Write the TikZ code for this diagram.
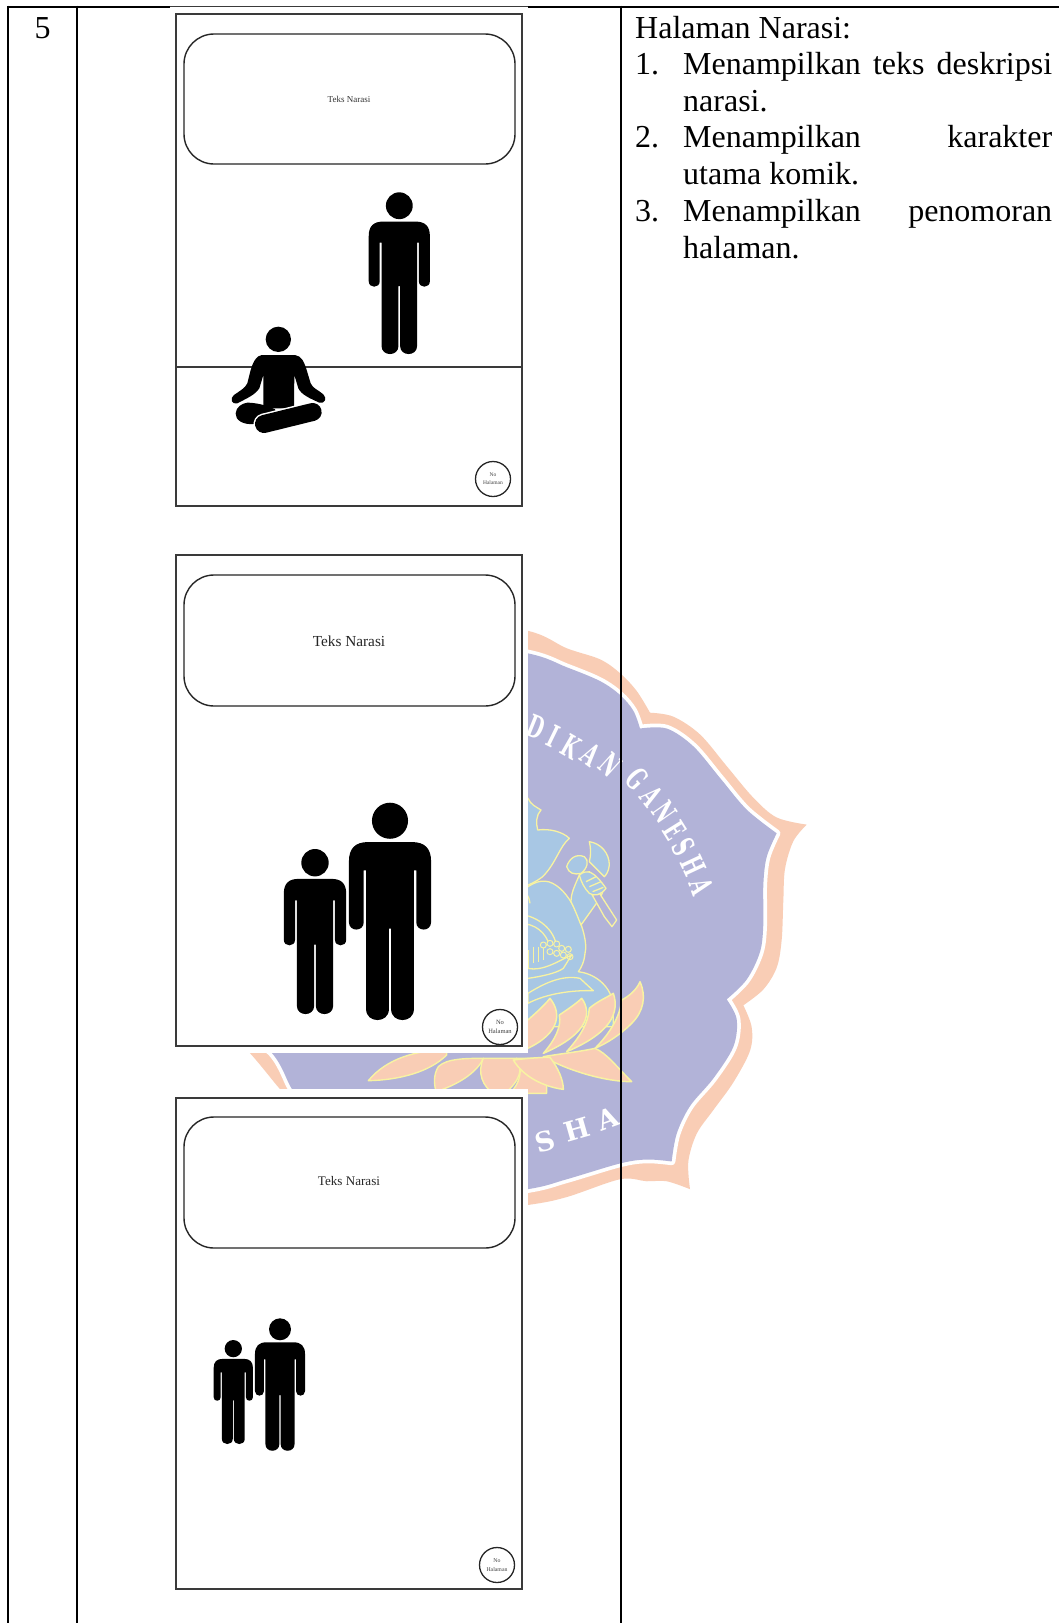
\documentclass[tikz,border=0pt]{standalone}
\usepackage{fontspec}
\setmainfont{Liberation Serif}
\newfontfamily\wmfont{DejaVu Serif}
\definecolor{wmorange}{HTML}{F9CDB5}
\definecolor{wmpurple}{HTML}{B2B3D8}
\definecolor{wmblue}{HTML}{A8C7E4}
\definecolor{wmyellow}{HTML}{F8F3A2}
\definecolor{framegray}{HTML}{3A3A3A}
\tikzset{
  tableline/.style={line width=2pt,black},
  frameline/.style={line width=1.5pt,framegray},
  bubble/.style={line width=1.4pt,draw=black!85,rounded corners=30pt},
  nocircle/.style={circle,draw=black!85,line width=1.3pt,minimum size=35pt,inner sep=0pt,align=center,text=black!75},
  bodytext/.style={anchor=base west,inner sep=0pt,font=\fontsize{32}{37}\selectfont},
  wmline/.style={draw=wmyellow,line width=1.3pt,line join=round},
  wmletter/.style={text=white,inner sep=0pt,font=\wmfont\fontsize{31}{31}\selectfont\bfseries},
  wmround/.style={text=white,inner sep=0pt,font=\wmfont\fontsize{27}{27}\selectfont\bfseries},
}
\newcommand{\wml}[1]{\scalebox{.6}[1]{#1}}
\newcommand{\stickman}[3]{%
  \begin{scope}[shift={(#1,#2)},scale=#3/100]
    \fill[black] (0,8.3) circle[radius=8.3];
    \fill[black] (-18.9,27) .. controls (-18.9,21) and (-16,18.1) .. (-10,18.1) -- (10,18.1)
      .. controls (16,18.1) and (18.9,21) .. (18.9,27) -- (18.9,55)
      .. controls (18.9,59.5) and (12.1,59.5) .. (12.1,55) -- (12.1,31.1) -- (11,31.1) -- (11,95)
      .. controls (11,101.7) and (0.5,101.7) .. (0.5,95) -- (0.5,58) -- (-0.5,58) -- (-0.5,95)
      .. controls (-0.5,101.7) and (-11,101.7) .. (-11,95) -- (-11,31.1) -- (-12.1,31.1) -- (-12.1,55)
      .. controls (-12.1,59.5) and (-18.9,59.5) .. (-18.9,55) -- cycle;
  \end{scope}}
\newcommand{\wmouter}{plot[smooth,tension=.55] coordinates {(-900,300) (-400,50) (-200,40) (84,78) (200,122) (300,150) (360,185) (410,230) (450,285)}
  -- plot[smooth,tension=.55] coordinates {(450,285) (520,295) (600,340) (680,420) (760,500) (830,550) (920,568)}
  -- plot[smooth,tension=.55] coordinates {(920,568) (880,610) (855,680) (850,760) (845,860) (830,930) (790,985) (730,1025)}
  -- plot[smooth,tension=.55] coordinates {(730,1025) (755,1080) (750,1140) (700,1220) (640,1290) (590,1350) (565,1420) (570,1490)}
  -- plot[smooth,tension=.55] coordinates {(570,1490) (500,1470) (440,1470) (360,1465) (200,1510) (84,1530) (-200,1560) (-500,1500) (-600,1290) (-660,1237) (-750,1146) (-900,1012) (-900,300)}}
\newcommand{\wminner}{plot[smooth,tension=.55] coordinates {(-850,400) (-400,110) (-200,100) (84,135) (200,170) (300,205) (360,240) (400,280) (420,325)}
  -- plot[smooth,tension=.55] coordinates {(420,325) (500,325) (580,370) (660,450) (740,530) (830,590)}
  -- plot[smooth,tension=.55] coordinates {(830,590) (800,650) (790,720) (790,820) (780,890) (740,960) (680,1010)}
  -- plot[smooth,tension=.55] coordinates {(680,1010) (710,1060) (700,1130) (640,1210) (570,1280) (530,1350) (515,1420)}
  -- plot[smooth,tension=.55] coordinates {(515,1420) (440,1415) (360,1425) (200,1465) (84,1490) (-200,1520) (-500,1470) (-570,1290) (-624,1237) (-684,1146) (-850,1012) (-850,400)}}
\begin{document}
\begin{tikzpicture}[x=1pt,y=-1pt]
\useasboundingbox (0,0) rectangle (1059,1623);
\fill[white] (0,0) rectangle (1059,1623);
% watermark
\begin{scope}[shift={(500,600)},xscale=0.33333,yscale=0.3954]
  \fill[wmorange] \wmouter -- cycle;
  \draw[white,line width=7.5pt,line join=round] \wminner -- cycle;
  \fill[wmpurple] \wminner -- cycle;
  \node[wmletter,rotate=-22] (l1) at (108,322) {\wml{D}};
  \node[wmletter,rotate=-26] (l2) at (160,345) {\wml{I}};
  \node[wmletter,rotate=-30] (l3) at (212,370) {\wml{K}};
  \node[wmletter,rotate=-36] (l4) at (272,392) {\wml{A}};
  \node[wmletter,rotate=-42] (l5) at (330,418) {\wml{N}};
  \node[wmletter,rotate=-48] (l6) at (412,452) {\wml{G}};
  \node[wmletter,rotate=-52] (l7) at (456,495) {\wml{A}};
  \node[wmletter,rotate=-55] (l8) at (495,535) {\wml{N}};
  \node[wmletter,rotate=-58] (l9) at (526,582) {\wml{E}};
  \node[wmletter,rotate=-61] (l10) at (552,624) {\wml{S}};
  \node[wmletter,rotate=-65] (l11) at (580,672) {\wml{H}};
  \node[wmletter,rotate=-70] (l12) at (604,725) {\wml{A}};
  \node[wmround,rotate=16] (l13) at (135,1368) {S};
  \node[wmround,rotate=16] (l14) at (232,1338) {H};
  \node[wmround,rotate=20] (l15) at (325,1312) {A};
\end{scope}
% Ganesha figure
\begin{scope}[shift={(526,760)},scale=0.33333]
  \path[fill=wmblue,wmline] (-20,100) -- (6,115) .. controls (15,135) and (30,140) .. (45,150) .. controls (30,165) and (30,190) .. (35,210)
     .. controls (70,205) and (110,215) .. (130,235) .. controls (100,260) and (90,310) .. (50,350) .. controls (30,365) and (10,375) .. (-20,385) -- cycle;
  \path[fill=wmblue,wmline] (-20,400) .. controls (20,365) and (50,355) .. (80,370) .. controls (110,385) and (135,420) .. (150,455)
     .. controls (170,500) and (185,550) .. (177,580) .. controls (175,605) and (165,625) .. (157,635) .. controls (200,640) and (250,670) .. (262,730)
     -- (262,800) -- (-20,800) -- cycle;
  \path[fill=wmblue,wmline] (135,425) .. controls (135,400) and (145,380) .. (160,345) -- (190,335) -- (235,385) -- (222,415) -- (165,495) .. controls (155,470) and (145,445) .. (135,425) -- cycle;
  \path[fill=wmblue,wmline] (190,245) .. controls (225,250) and (250,280) .. (250,315) .. controls (248,335) and (240,345) .. (235,350) -- (190,305) .. controls (195,285) and (195,265) .. (190,245) -- cycle;
  \path[fill=wmblue,wmline] (122,320) .. controls (130,295) and (150,280) .. (175,290) .. controls (190,300) and (185,325) .. (165,340) .. controls (145,345) and (128,340) .. (122,320) -- cycle;
  \path[fill=wmpurple,wmline] (185,345) -- (272,480) -- (258,500) -- (235,470) -- (165,345) -- cycle;
  \path[fill=wmblue,wmline] (160,345) .. controls (185,325) and (205,335) .. (240,385) .. controls (225,405) and (205,410) .. (190,400) .. controls (175,385) and (165,365) .. (160,345) -- cycle;
  \draw[wmline] (180,365) -- (210,350) (190,380) -- (225,365) (200,395) -- (232,382);
  \draw[wmline] (-20,462) .. controls (40,470) and (85,510) .. (92,560);
  \draw[wmline] (-20,490) .. controls (30,490) and (60,520) .. (70,555);
  \draw[wmline] (-20,375) .. controls (0,395) and (10,410) .. (12,430);
\end{scope}
% lotus petals seen in the gap between the two lower images
\begin{scope}[shift={(230,1030)},scale=0.33333]
  \path[fill=wmorange,wmline,line width=1.4pt] (650,60) .. controls (560,60) and (470,85) .. (415,152) .. controls (510,150) and (600,125) .. (650,75) -- cycle;
  \path[fill=wmorange,wmline,line width=1.4pt] (760,85) .. controls (710,85) and (650,85) .. (625,110) .. controls (610,135) and (612,160) .. (618,185) .. controls (680,165) and (740,130) .. (760,85) -- cycle;
  \path[fill=wmorange,wmline,line width=1.4pt] (760,85) .. controls (740,130) and (760,170) .. (790,190) -- (825,190) .. controls (870,150) and (880,120) .. (860,85) -- cycle;
  \path[fill=wmorange,wmline,line width=1.4pt] (860,85) .. controls (880,120) and (870,160) .. (840,190) -- (950,190) -- (950,85) -- cycle;
\end{scope}
\begin{scope}[shift={(500,940)},scale=0.33333]
  \draw[wmline,line width=1.6pt] (84,30) -- (84,85) (100,20) -- (100,70) (115,20) -- (115,65) (130,20) -- (130,60);
  \foreach \bx/\by in {130/15,150/10,170/12,185/25,205/28,170/40,150/35,190/45,210/50}{
    \path[fill=wmblue,wmline,line width=1pt] (\bx,\by) circle[radius=9];}
  \draw[wmline] (84,85) .. controls (130,95) and (180,60) .. (215,45) -- (190,85) .. controls (170,100) and (120,110) .. (84,115);
  \path[fill=wmblue,wmline] (84,160) .. controls (140,125) and (190,105) .. (240,115) -- (280,152) .. controls (220,150) and (140,160) .. (84,190) -- cycle;
  \path[fill=wmorange,wmline,line width=1.5pt] (420,125) .. controls (440,170) and (430,215) .. (395,250) .. controls (360,285) and (320,310) .. (285,325) .. controls (330,280) and (360,230) .. (365,180) .. controls (385,170) and (410,150) .. (420,125) -- cycle;
  \path[fill=wmorange,wmline,line width=1.5pt] (340,160) .. controls (360,220) and (330,280) .. (200,335) .. controls (240,290) and (265,250) .. (268,205) .. controls (290,185) and (325,170) .. (340,160) -- cycle;
  \path[fill=wmorange,wmline,line width=1.5pt] (245,175) .. controls (275,215) and (270,280) .. (130,340) .. controls (165,300) and (185,260) .. (178,225) .. controls (200,210) and (230,190) .. (245,175) -- cycle;
  \path[fill=wmorange,wmline,line width=1.5pt] (150,175) .. controls (190,225) and (175,290) .. (60,335) -- (60,260) .. controls (90,235) and (130,200) .. (150,175) -- cycle;
  \path[fill=wmorange,wmline,line width=1.5pt] (130,350) .. controls (190,340) and (240,335) .. (285,325) .. controls (320,340) and (345,375) .. (395,425) .. controls (320,425) and (210,395) .. (130,350) -- cycle;
  \path[fill=wmorange,wmline,line width=1.5pt] (40,360) .. controls (80,355) and (120,352) .. (150,352) .. controls (175,385) and (190,420) .. (190,448) .. controls (130,440) and (70,410) .. (40,360) -- cycle;
\end{scope}
% white backgrounds of the pasted images
\fill[white] (170,7) rectangle (528,1053);
\fill[white] (170,1089) rectangle (528,1623);
% table
\draw[tableline] (8,6.5) -- (170,6.5);
\draw[tableline] (528,6.5) -- (1059,6.5);
\draw[framegray,line width=.8pt] (170,6.5) -- (528,6.5);
\draw[tableline] (8,5.5) -- (8,1623);
\draw[tableline] (77,5.5) -- (77,1623);
\draw[tableline] (621,5.5) -- (621,1623);
\node[bodytext,anchor=base] (num) at (42.7,38) {5};
% right column text
\node[bodytext] (h0) at (635,38) {Halaman Narasi:};
\node[bodytext] (n1) at (635,74.5) {1.};
\node[bodytext] (t1) at (683,74.5) {\makebox[369pt][s]{Menampilkan teks deskripsi}};
\node[bodytext] (t1b) at (683,111.5) {narasi.};
\node[bodytext] (n2) at (635,147.5) {2.};
\node[bodytext] (t2) at (683,147.5) {\makebox[369pt][s]{Menampilkan karakter}};
\node[bodytext] (t2b) at (683,184.5) {utama komik.};
\node[bodytext] (n3) at (635,221) {3.};
\node[bodytext] (t3) at (683,221) {\makebox[369pt][s]{Menampilkan penomoran}};
\node[bodytext] (t3b) at (683,258) {halaman.};
% frame 1
\draw[frameline] (176,14) rectangle (522,506);
\draw[bubble] (184,34) rectangle (515,164);
\node[font=\fontsize{9}{9}\selectfont,text=black!80] (n1t) at (349,99) {Teks Narasi};
\draw[frameline] (176,367) -- (522,367);
\stickman{399.3}{192.3}{161.7}
\begin{scope}[shift={(160,0)},scale=0.33333]
  \fill[black] (355,1018) circle[radius=38];
  \fill[black,line join=round] (305,1065) -- (405,1065) .. controls (425,1068) and (432,1085) .. (440,1110) -- (452,1150) .. controls (458,1165) and (475,1170) .. (490,1183) .. controls (502,1195) and (495,1212) .. (478,1208) .. controls (450,1195) and (425,1185) .. (415,1165) -- (403,1125) -- (402,1225) -- (310,1225) -- (310,1125) -- (298,1165) .. controls (285,1185) and (260,1195) .. (232,1210) .. controls (215,1215) and (208,1195) .. (222,1185) .. controls (240,1172) and (255,1165) .. (262,1150) -- (272,1110) .. controls (280,1085) and (288,1068) .. (305,1065) -- cycle;
  \fill[black] (262,1208) .. controls (285,1208) and (320,1215) .. (345,1228) -- (350,1240) -- (280,1272) .. controls (250,1275) and (225,1260) .. (227,1240) .. controls (228,1222) and (245,1210) .. (262,1208) -- cycle;
  \draw[white,line width=21pt,line cap=round] (312,1272) -- (458,1236);
  \draw[black,line width=18pt,line cap=round] (312,1272) -- (458,1236);
\end{scope}
\node[nocircle,font=\fontsize{5.5}{8}\selectfont] (c1) at (493,479) {No\\Halaman};
% frame 2
\draw[frameline] (176,555) rectangle (522,1046);
\draw[bubble] (184,575) rectangle (515,706);
\node[font=\fontsize{15.3}{15.3}\selectfont,text=black!85] (n2t) at (349,641) {Teks Narasi};
\stickman{390}{802.7}{217.3}
\stickman{315}{849}{165}
\node[nocircle,font=\fontsize{6.5}{9}\selectfont] (c2) at (500,1027) {No\\Halaman};
% frame 3
\draw[frameline] (176,1098) rectangle (522,1589);
\draw[bubble] (184,1117) rectangle (515,1248);
\node[font=\fontsize{13.1}{13.1}\selectfont,text=black!85] (n3t) at (349,1181) {Teks Narasi};
\stickman{280}{1318.3}{132.4}
\stickman{233.3}{1340}{104}
\node[nocircle,font=\fontsize{5.8}{8.5}\selectfont] (c3) at (497,1565) {No\\Halaman};
\end{tikzpicture}
\end{document}
